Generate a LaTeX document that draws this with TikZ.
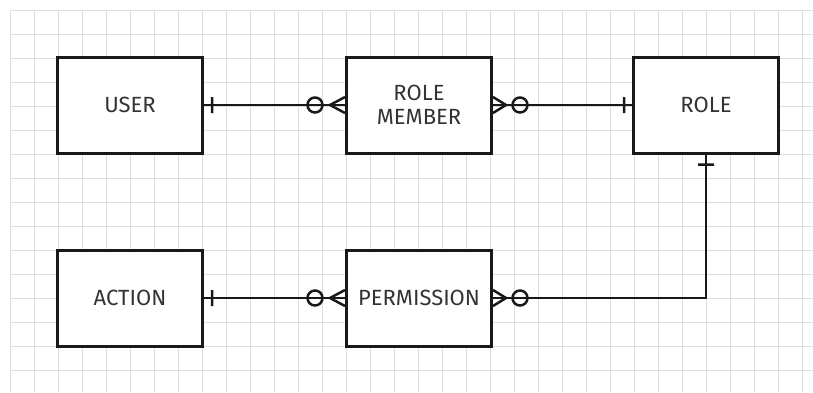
\documentclass[tikz,border=0pt]{standalone}
\usepackage{fontspec}
\setsansfont{Fira Sans}
\usetikzlibrary{calc}

\tikzset{
	entity/.style={draw=black!90, line width=3pt, fill=white, minimum width=145pt, minimum height=96pt, align=center, text=black!80, font=\sffamily\fontsize{22}{24}\selectfont},
	rel/.style={draw=black!90, line width=2.5pt},
	gridline/.style={draw=black!13, line width=0.8pt}
}

\begin{document}
\begin{tikzpicture}[x=1pt,y=-1pt]

\useasboundingbox[fill=white] (0,0) rectangle (813,392);

% grid paper
\foreach \gx in {10,34,...,802} \draw[gridline] (\gx,10) -- (\gx,392);
\foreach \gy in {10,34,...,370} \draw[gridline] (10,\gy) -- (813,\gy);

\node[entity] (user) at (130,105) {USER};
\node[entity] (rolemember) at (419,105) {ROLE\\MEMBER};
\node[entity] (role) at (706,105) {ROLE};
\node[entity] (action) at (130,298) {ACTION};
\node[entity] (permission) at (419,298) {PERMISSION};

\begin{scope}
	% one
	\coordinate (u1) at ([xshift=8pt,yshift=8pt]user.east);
	\coordinate (u2) at ([xshift=8pt,yshift=-8pt]user.east);
	\coordinate (r1) at ([xshift=-8pt,yshift=8pt]role.west);
	\coordinate (r2) at ([xshift=-8pt,yshift=-8pt]role.west);
	\coordinate (r3) at ([xshift=-8pt,yshift=-10pt]role.south);
	\coordinate (r4) at ([xshift=8pt,yshift=-10pt]role.south);
	\coordinate (a1) at ([xshift=8pt,yshift=8pt]action.east);
	\coordinate (a2) at ([xshift=8pt,yshift=-8pt]action.east);
	%
	% zero or many
	\coordinate (m0) at ([xshift=-15pt]rolemember.west);
	\coordinate (m1) at ([yshift=8pt]rolemember.west);
	\coordinate (m2) at ([yshift=-8pt]rolemember.west);
	\coordinate (mc) at ([xshift=-30pt]rolemember.west);
	\coordinate (n0) at ([xshift=13pt]rolemember.east);
	\coordinate (n1) at ([yshift=8pt]rolemember.east);
	\coordinate (n2) at ([yshift=-8pt]rolemember.east);
	\coordinate (nc) at ([xshift=27pt]rolemember.east);
	\coordinate (p0) at ([xshift=-15pt]permission.west);
	\coordinate (p1) at ([yshift=8pt]permission.west);
	\coordinate (p2) at ([yshift=-8pt]permission.west);
	\coordinate (pc) at ([xshift=-30pt]permission.west);
	\coordinate (q0) at ([xshift=13pt]permission.east);
	\coordinate (q1) at ([yshift=8pt]permission.east);
	\coordinate (q2) at ([yshift=-8pt]permission.east);
	\coordinate (qc) at ([xshift=27pt]permission.east);
\end{scope}

\draw[rel]
	(user.east) -- (rolemember.west)
	(rolemember.east) -- (role.west)
	(action.east) -- (permission.west)
	(role.south) |- (permission.east);

\draw[rel]
	(u1) -- (u2) (r1) -- (r2) (r3) -- (r4) (a1) -- (a2)
	(m1) -- (m0) -- (m2) (mc) circle[radius=7.5pt]
	(n1) -- (n0) -- (n2) (nc) circle[radius=7.5pt]
	(p1) -- (p0) -- (p2) (pc) circle[radius=7.5pt]
	(q1) -- (q0) -- (q2) (qc) circle[radius=7.5pt];

\end{tikzpicture}
\end{document}
